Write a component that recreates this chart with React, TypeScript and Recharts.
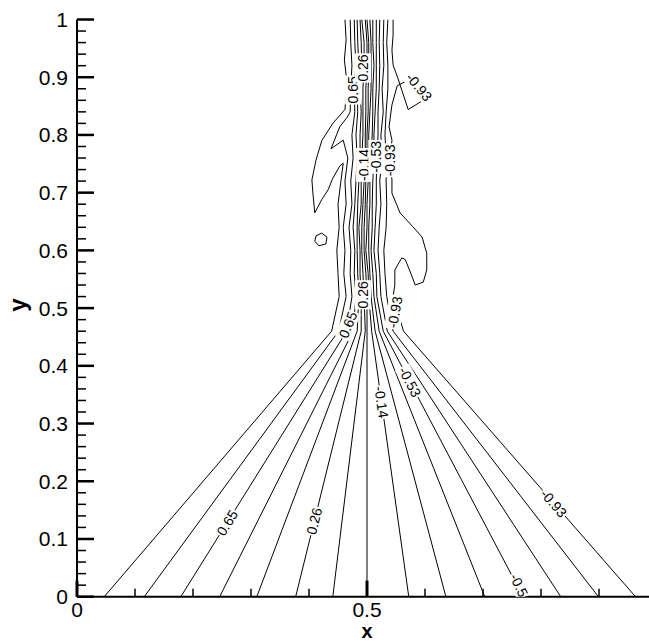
import React from 'react';
import { ComposedChart, Line, Scatter, XAxis, YAxis, Label } from 'recharts';

type Pt = [number, number];

// contour levels, ordered by where each line meets the bottom edge (left to right)
const levels = [0.91, 0.78, 0.65, 0.52, 0.39, 0.26, 0.13, -0.01, -0.14, -0.27, -0.4, -0.53, -0.66, -0.8, -0.93];

// each contour runs from the bottom edge up the fan and then through the plume to y = 1
const c091: Pt[] = [[0.047, 0], [0.439, 0.46], [0.452, 0.52], [0.45, 0.56], [0.448, 0.6], [0.452, 0.64], [0.45, 0.68], [0.455, 0.72], [0.459, 0.751], [0.453, 0.746], [0.441, 0.725], [0.433, 0.705], [0.422, 0.688], [0.41, 0.665], [0.407, 0.696], [0.405, 0.722], [0.412, 0.756], [0.422, 0.79], [0.441, 0.82], [0.462, 0.844], [0.464, 0.869], [0.465, 0.895], [0.461, 0.93], [0.464, 0.965], [0.462, 1.0]];
const c078: Pt[] = [[0.116, 0], [0.451, 0.46], [0.464, 0.52], [0.46, 0.56], [0.462, 0.6], [0.459, 0.64], [0.464, 0.68], [0.462, 0.72], [0.467, 0.76], [0.459, 0.791], [0.438, 0.776], [0.453, 0.814], [0.466, 0.831], [0.471, 0.84], [0.472, 0.88], [0.474, 0.92], [0.472, 0.96], [0.471, 1.0]];
const c065: Pt[] = [[0.179, 0], [0.465, 0.46], [0.474, 0.52], [0.471, 0.56], [0.472, 0.6], [0.469, 0.64], [0.474, 0.68], [0.472, 0.72], [0.476, 0.76], [0.474, 0.8], [0.479, 0.84], [0.478, 0.88], [0.481, 0.92], [0.479, 0.96], [0.478, 1.0]];
const c052: Pt[] = [[0.246, 0], [0.476, 0.46], [0.481, 0.52], [0.478, 0.56], [0.479, 0.6], [0.476, 0.64], [0.479, 0.68], [0.481, 0.72], [0.483, 0.76], [0.481, 0.8], [0.484, 0.84], [0.483, 0.88], [0.486, 0.92], [0.484, 0.96], [0.483, 1.0]];
const c039: Pt[] = [[0.31, 0], [0.483, 0.46], [0.486, 0.52], [0.484, 0.56], [0.483, 0.6], [0.483, 0.64], [0.484, 0.68], [0.486, 0.72], [0.488, 0.76], [0.488, 0.8], [0.49, 0.84], [0.488, 0.88], [0.491, 0.92], [0.49, 0.96], [0.488, 1.0]];
const c026: Pt[] = [[0.377, 0], [0.49, 0.46], [0.49, 0.52], [0.488, 0.56], [0.488, 0.6], [0.486, 0.64], [0.49, 0.68], [0.49, 0.72], [0.491, 0.76], [0.493, 0.8], [0.493, 0.84], [0.493, 0.88], [0.495, 0.92], [0.495, 0.96], [0.491, 1.0]];
const c013: Pt[] = [[0.441, 0], [0.497, 0.46], [0.495, 0.52], [0.493, 0.56], [0.491, 0.6], [0.491, 0.64], [0.493, 0.68], [0.495, 0.72], [0.497, 0.76], [0.497, 0.8], [0.498, 0.84], [0.498, 0.88], [0.5, 0.92], [0.5, 0.96], [0.497, 1.0]];
const cm001: Pt[] = [[0.5, 0], [0.5, 0.46], [0.5, 0.52], [0.498, 0.56], [0.495, 0.6], [0.495, 0.64], [0.497, 0.68], [0.498, 0.72], [0.5, 0.76], [0.5, 0.8], [0.502, 0.84], [0.502, 0.88], [0.503, 0.92], [0.503, 0.96], [0.5, 1.0]];
const cm014: Pt[] = [[0.572, 0], [0.508, 0.46], [0.503, 0.52], [0.502, 0.56], [0.498, 0.6], [0.5, 0.64], [0.5, 0.68], [0.502, 0.72], [0.503, 0.76], [0.503, 0.8], [0.505, 0.84], [0.507, 0.88], [0.507, 0.92], [0.507, 0.96], [0.505, 1.0]];
const cm027: Pt[] = [[0.636, 0], [0.514, 0.46], [0.507, 0.52], [0.505, 0.56], [0.503, 0.6], [0.503, 0.64], [0.505, 0.68], [0.505, 0.72], [0.507, 0.76], [0.509, 0.8], [0.51, 0.84], [0.51, 0.88], [0.512, 0.92], [0.51, 0.96], [0.51, 1.0]];
const cm040: Pt[] = [[0.703, 0], [0.521, 0.46], [0.512, 0.52], [0.51, 0.56], [0.507, 0.6], [0.509, 0.64], [0.509, 0.68], [0.51, 0.72], [0.512, 0.76], [0.512, 0.8], [0.514, 0.84], [0.516, 0.88], [0.516, 0.92], [0.516, 0.96], [0.516, 1.0]];
const cm053: Pt[] = [[0.769, 0], [0.528, 0.46], [0.517, 0.52], [0.516, 0.56], [0.512, 0.6], [0.514, 0.64], [0.516, 0.68], [0.516, 0.72], [0.517, 0.76], [0.519, 0.8], [0.519, 0.84], [0.521, 0.88], [0.522, 0.92], [0.521, 0.96], [0.522, 1.0]];
const cm066: Pt[] = [[0.834, 0], [0.535, 0.46], [0.524, 0.52], [0.522, 0.56], [0.519, 0.6], [0.521, 0.64], [0.524, 0.68], [0.522, 0.72], [0.526, 0.76], [0.524, 0.8], [0.528, 0.84], [0.526, 0.88], [0.529, 0.92], [0.528, 0.96], [0.529, 1.0]];
const cm080: Pt[] = [[0.899, 0], [0.545, 0.46], [0.534, 0.52], [0.531, 0.56], [0.529, 0.6], [0.533, 0.64], [0.534, 0.68], [0.533, 0.72], [0.533, 0.76], [0.531, 0.8], [0.533, 0.84], [0.536, 0.88], [0.536, 0.92], [0.534, 0.96], [0.536, 1.0]];
const cm093: Pt[] = [[0.963, 0], [0.563, 0.46], [0.545, 0.52], [0.548, 0.54], [0.548, 0.566], [0.553, 0.575], [0.56, 0.587], [0.566, 0.584], [0.578, 0.554], [0.583, 0.54], [0.597, 0.545], [0.603, 0.566], [0.603, 0.595], [0.595, 0.623], [0.579, 0.641], [0.557, 0.665], [0.543, 0.699], [0.543, 0.722], [0.54, 0.756], [0.543, 0.791], [0.538, 0.814], [0.543, 0.852], [0.552, 0.885], [0.578, 0.899], [0.603, 0.864], [0.571, 0.844], [0.553, 0.899], [0.545, 0.921], [0.543, 0.947], [0.545, 0.973], [0.545, 1.0]];

const contours = [c091, c078, c065, c052, c039, c026, c013, cm001, cm014, cm027, cm040, cm053, cm066, cm080, cm093];

// small closed contour left of the plume
const islet: Pt[] = [[0.412, 0.625], [0.422, 0.63], [0.431, 0.623], [0.429, 0.611], [0.417, 0.608], [0.41, 0.616], [0.412, 0.625]];

// inline contour labels: which contour, where, and the text angle in degrees
const contourLabels = [
  { line: 2, x: 0.259, y: 0.128, angle: -58 },
  { line: 5, x: 0.409, y: 0.131, angle: -76 },
  { line: 8, x: 0.525, y: 0.337, angle: 82 },
  { line: 11, x: 0.574, y: 0.372, angle: 62 },
  { line: 14, x: 0.822, y: 0.162, angle: 49 },
  { line: 11, x: 0.762, y: 0.02, angle: 64, chars: 4 },
  { line: 2, x: 0.467, y: 0.471, angle: -68 },
  { line: 5, x: 0.493, y: 0.523, angle: -90 },
  { line: 14, x: 0.548, y: 0.493, angle: -80 },
  { line: 8, x: 0.495, y: 0.748, angle: -90 },
  { line: 11, x: 0.516, y: 0.762, angle: -90 },
  { line: 14, x: 0.54, y: 0.756, angle: -90 },
  { line: 2, x: 0.476, y: 0.878, angle: -90 },
  { line: 5, x: 0.493, y: 0.916, angle: -90 },
  { line: 14, x: 0.59, y: 0.883, angle: 50 },
];

const xTicks = [0, 0.1, 0.2, 0.3, 0.4, 0.5, 0.6, 0.7, 0.8, 0.9];
const xLabelled = [0, 0.5];
const yMajor = [0, 0.1, 0.2, 0.3, 0.4, 0.5, 0.6, 0.7, 0.8, 0.9, 1];

const FONT = '"Liberation Sans", Arial, Helvetica, sans-serif';
const X_MAX = 0.9862;

const yTicks: number[] = [];
for (let i = 0; i <= 50; i++) yTicks.push(i / 50);

const fmt = (v: number) => Number(v.toFixed(2)).toString();
const near = (a: number, b: number) => Math.abs(a - b) < 1e-6;
const toRows = (pts: Pt[]) => pts.map(([x, y]) => ({ x, y }));

// Arial advance widths, used to size the white box behind a label
const charWidth = (c: string) => (c === '.' ? 0.278 : c === '-' ? 0.333 : 0.556);

const labelRows = contourLabels.map((l) => {
  const full = fmt(levels[l.line]);
  return { x: l.x, y: l.y, angle: l.angle, text: l.chars ? full.slice(0, l.chars) : full };
});

function XTick({ x, y, payload }: any) {
  const v = payload.value;
  const labelled = xLabelled.some((t) => near(t, v));
  return (
    <g>
      <line x1={x} y1={y} x2={x} y2={y - (labelled ? 16 : 8)} stroke="#000" strokeWidth={labelled ? 3 : 1.5} />
      {labelled && (
        <text x={x} y={y + 13} textAnchor="middle" dominantBaseline="central" fontSize={21} fontFamily={FONT} fill="#000">
          {fmt(v)}
        </text>
      )}
    </g>
  );
}

function YTick({ x, y, payload }: any) {
  const v = payload.value;
  const major = yMajor.some((t) => near(t, v));
  return (
    <g>
      <line x1={x} y1={y} x2={x + (major ? 17 : 9)} y2={y} stroke="#000" strokeWidth={major ? 2.5 : 1.5} />
      {major && (
        <text x={x - 9} y={y} textAnchor="end" dominantBaseline="central" fontSize={21} fontFamily={FONT} fill="#000">
          {fmt(v)}
        </text>
      )}
    </g>
  );
}

function ContourLabel(props: any) {
  const { cx, cy, payload } = props;
  if (cx == null || cy == null) return null;
  const fs = 14;
  const w = payload.text.split('').reduce((s: number, c: string) => s + charWidth(c), 0) * fs + 2;
  return (
    <g transform={`rotate(${payload.angle}, ${cx}, ${cy})`}>
      <rect x={cx - w / 2} y={cy - fs / 2 - 1} width={w} height={fs + 2} fill="#fff" />
      <text x={cx} y={cy} textAnchor="middle" dominantBaseline="central" fontSize={fs} fontFamily={FONT} fill="#000">
        {payload.text}
      </text>
    </g>
  );
}

function XTitle({ viewBox }: any) {
  const cx = viewBox.x + (viewBox.width * 0.5) / X_MAX;
  return (
    <text x={cx} y={viewBox.y + 41.5} textAnchor="middle" fontSize={20} fontWeight="bold" fontFamily={FONT} fill="#000">
      x
    </text>
  );
}

function YTitle({ viewBox }: any) {
  const cy = viewBox.y + viewBox.height / 2 - 3;
  return (
    <text x={18} y={cy} textAnchor="middle" dominantBaseline="central" fontSize={24} fontWeight="bold" fontFamily={FONT} fill="#000" transform={`rotate(-90, 18, ${cy})`}>
      y
    </text>
  );
}

export default function App() {
  return (
    <div style={{ position: 'absolute', left: 0, top: 0, background: '#fff' }}>
      <ComposedChart width={649} height={643} margin={{ top: 19.5, right: 0, bottom: 0, left: 0 }}>
        <XAxis
          type="number"
          dataKey="x"
          domain={[0, X_MAX]}
          allowDataOverflow
          ticks={xTicks}
          interval={0}
          tick={<XTick />}
          tickLine={false}
          tickSize={0}
          tickMargin={0}
          height={46.3}
          axisLine={{ stroke: '#000', strokeWidth: 2 }}
        >
          <Label content={<XTitle />} />
        </XAxis>
        <YAxis
          type="number"
          dataKey="y"
          domain={[0, 1]}
          allowDataOverflow
          ticks={yTicks}
          interval={0}
          tick={<YTick />}
          tickLine={false}
          tickSize={0}
          tickMargin={0}
          width={77}
          axisLine={{ stroke: '#000', strokeWidth: 2 }}
        >
          <Label content={<YTitle />} />
        </YAxis>
        {contours.map((pts, i) => (
          <Line
            key={levels[i]}
            data={toRows(pts)}
            dataKey="y"
            type="linear"
            dot={false}
            activeDot={false}
            stroke="#000"
            strokeWidth={1}
            isAnimationActive={false}
          />
        ))}
        <Line data={toRows(islet)} dataKey="y" type="linear" dot={false} activeDot={false} stroke="#000" strokeWidth={1} isAnimationActive={false} />
        <Scatter data={labelRows} dataKey="y" shape={<ContourLabel />} isAnimationActive={false} />
      </ComposedChart>
    </div>
  );
}
